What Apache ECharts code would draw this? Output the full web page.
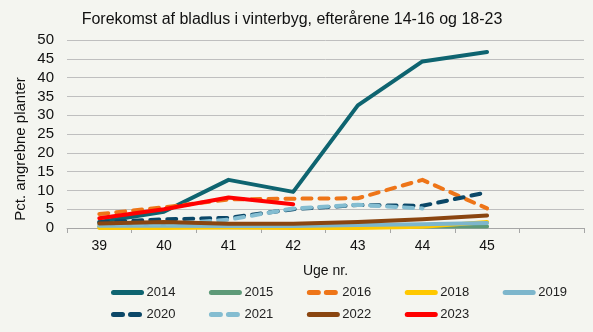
<!DOCTYPE html>
<html><head><meta charset="utf-8">
<script src="https://cdn.jsdelivr.net/npm/echarts@6/dist/echarts.min.js"></script>
<style>html,body{margin:0;padding:0;background:#F4F5F0}#c{width:593px;height:332px}</style>
</head><body><div id="c"></div>
<script>
var weeks = ['39','40','41','42','43','44','45',''];
var yTicks = [0,5,10,15,20,25,30,35,40,45,50];
var s2014 = [1.6, 4.3, 12.8, 9.6, 32.6, 44.3, 46.8];
var s2015 = [0.3, 0.3, 0.2, 0.2, 0.3, 0.4, 0.4];
var s2016 = [3.7, 5.5, 7.6, 7.8, 7.9, 12.8, 5.2];
var s2018 = [0.0, 0.0, 0.1, 0.0, 0.0, 0.3, 1.6];
var s2019 = [0.6, 0.6, 0.5, 0.5, 0.8, 1.0, 1.3];
var s2020 = [1.5, 2.3, 2.7, 5.0, 6.1, 5.9, 9.5];
var s2021 = [1.0, 1.0, 2.2, 5.2, 6.2, 5.2, null];
var s2022 = [1.2, 1.6, 1.1, 1.1, 1.6, 2.3, 3.3];
var s2023 = [2.6, 5.0, 8.1, 6.3, null, null, null];

var names = ['2014','2015','2016','2018','2019','2020','2021','2022','2023'];
var data = [s2014,s2015,s2016,s2018,s2019,s2020,s2021,s2022,s2023];
var colors = ['#0E6470','#5E9A78','#EE7518','#FFC800','#7DB6CC','#0B4767','#84BDD1','#8A4510','#FF0000'];
var dashed = {'2016':true,'2020':true,'2021':true};

var series = names.map(function(n,i){
  return {
    name: n, type: 'line', data: data[i], symbol: 'none', connectNulls: false,
    lineStyle: {color: colors[i], width: 4, type: dashed[n] ? [9,8] : 'solid', cap: 'round', join: 'round'},
    itemStyle: {color: colors[i]}
  };
});

var chart = echarts.init(document.getElementById('c'), null, {renderer: 'canvas'});
var legendCommon = {
  orient: 'horizontal', itemWidth: 28, itemHeight: 14, itemGap: 33.5,
  textStyle: {fontFamily: 'Liberation Sans', fontSize: 13, color: '#222'},
  itemStyle: {opacity: 0, borderWidth: 0},
  lineStyle: {width: 5, cap: 'round'},
  padding: 0
};
chart.setOption({
  backgroundColor: '#F4F5F0',
  animation: false,
  title: {
    text: 'Forekomst af bladlus i vinterbyg, efterårene 14-16 og 18-23',
    left: 287, top: 7, textAlign: 'center',
    textStyle: {fontFamily: 'Liberation Sans', fontSize: 16, fontWeight: 'normal', color: '#111'}
  },
  legend: [
    Object.assign({}, legendCommon, {left: 111, top: 286, data: ['2014','2015','2016','2018','2019']}),
    Object.assign({}, legendCommon, {left: 111, top: 308, data: ['2020','2021','2022','2023']})
  ],
  graphic: [{
    type: 'text', x: 21, y: 149, rotation: Math.PI / 2,
    style: {text: 'Pct. angrebne planter', fontFamily: 'Liberation Sans', fontSize: 15, fill: '#111', align: 'center', verticalAlign: 'middle'}
  }],
  grid: {left: 67, right: 9, top: 40, bottom: 104},
  xAxis: {
    type: 'category', data: weeks, boundaryGap: true,
    name: 'Uge nr.', nameLocation: 'middle', nameGap: 36,
    nameTextStyle: {fontFamily: 'Liberation Sans', fontSize: 14, color: '#111'},
    axisLine: {lineStyle: {color: '#A6A6A6', width: 1}},
    axisTick: {show: true, length: 5, alignWithLabel: false, lineStyle: {color: '#A6A6A6'}},
    axisLabel: {fontFamily: 'Liberation Sans', fontSize: 14, color: '#111', margin: 11}
  },
  yAxis: {
    type: 'value', min: yTicks[0], max: yTicks[yTicks.length-1], interval: 5,
    axisLine: {show: false}, axisTick: {show: false},
    axisLabel: {fontFamily: 'Liberation Sans', fontSize: 15, color: '#111', margin: 13},
    splitLine: {lineStyle: {color: '#BFBFBF', width: 1}}
  },
  series: series
});
</script></body></html>
